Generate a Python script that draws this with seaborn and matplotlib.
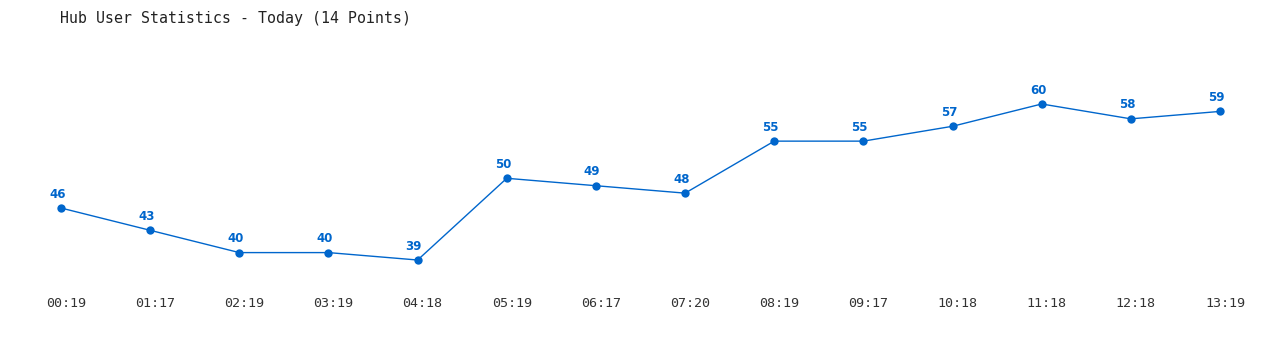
import matplotlib
matplotlib.use("Agg")
import matplotlib.pyplot as plt
import matplotlib.transforms as mtransforms
import seaborn as sns
import pandas as pd

times = ["00:19", "01:17", "02:19", "03:19", "04:18", "05:19", "06:17",
         "07:20", "08:19", "09:17", "10:18", "11:18", "12:18", "13:19"]
users = [46, 43, 40, 40, 39, 50, 49, 48, 55, 55, 57, 60, 58, 59]
title = "Hub User Statistics - Today (14 Points)"

sns.set_style("white")
plt.rcParams['font.family'] = ['DejaVu Sans Mono', 'DejaVu Sans']

df = pd.DataFrame({"idx": range(len(times)), "time": times, "users": users})

fig = plt.figure(figsize=(12.8, 3.5), dpi=100)
W, H = 1280, 350
ax = fig.add_axes([61 / W, 1 - 278.6 / H, (1220 - 61) / W, (278.6 - 59.4) / H])

color = "#0066cc"
sns.lineplot(data=df, x="idx", y="users", ax=ax, color=color, linewidth=1,
             marker="o", markersize=6, markeredgewidth=0, clip_on=False)

for i, v in zip(df["idx"], df["users"]):
    ax.annotate(str(v), (i, v), xytext=(-2.7, 10), textcoords="offset points",
                ha="center", va="center", fontsize=8.5, fontweight="bold",
                color=color, family="DejaVu Sans")

ax.set_xlim(0, len(times) - 1)
ax.set_ylim(36.5, 66)
ax.set_xticks(list(df["idx"]))
ax.set_xticklabels(times, fontsize=9.6, color="#333333")
ax.set_yticks([])
ax.tick_params(axis="x", length=0, pad=13)
offset = mtransforms.ScaledTranslation(5 / 100, 0, fig.dpi_scale_trans)
for lbl in ax.get_xticklabels():
    lbl.set_transform(lbl.get_transform() + offset)
ax.set_xlabel("")
ax.set_ylabel("")
for s in ax.spines.values():
    s.set_visible(False)

fig.text(60 / W, 1 - 18 / H, title, ha="left", va="center",
         fontsize=10.7, color="#222222")

fig.savefig("out.png", dpi=100)
